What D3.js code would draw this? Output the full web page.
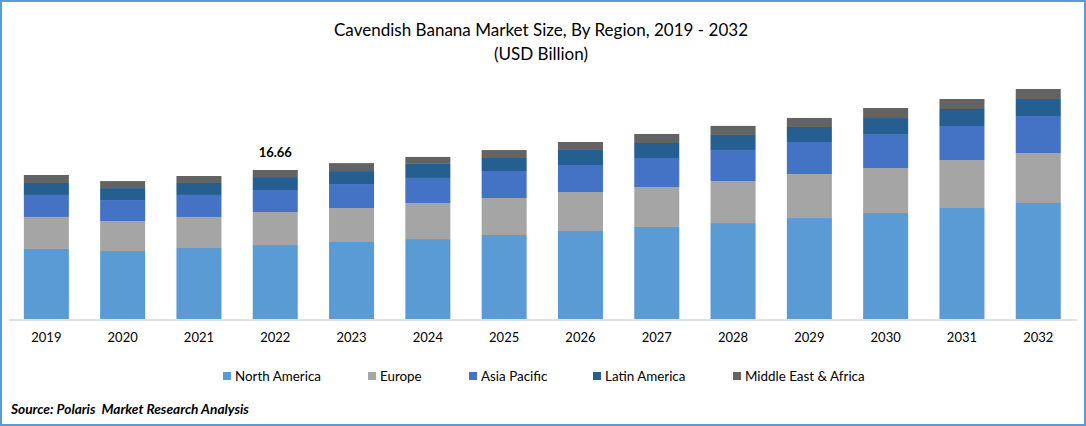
<!DOCTYPE html>
<html>
<head>
<meta charset="utf-8">
<title>Cavendish Banana Market Size</title>
<script src="https://cdnjs.cloudflare.com/ajax/libs/d3/7.8.5/d3.min.js"></script>
<style>
    html, body { margin: 0; padding: 0; background: #fff; }
    svg { display: block; font-family: Lato, sans-serif; }
</style>
</head>
<body>
<div id="chart"></div>
<script>
    var width = 1086,
        height = 426,

        // USD billion (16.66 for 2022 is the printed one)
        regions = ["North America", "Europe", "Asia Pacific", "Latin America", "Middle East & Africa"],
        colors = ["#5b9bd5", "#a5a5a5", "#4472c4", "#255e91", "#636363"],
        legendX = [223, 368, 469, 593, 733],

        data = [
            { year: 2019, "North America": 7.83, "Europe": 3.58, "Asia Pacific": 2.46, "Latin America": 1.34, "Middle East & Africa": 0.89 },
            { year: 2020, "North America": 7.60, "Europe": 3.35, "Asia Pacific": 2.35, "Latin America": 1.34, "Middle East & Africa": 0.78 },
            { year: 2021, "North America": 7.94, "Europe": 3.47, "Asia Pacific": 2.46, "Latin America": 1.34, "Middle East & Africa": 0.78 },
            { year: 2022, "North America": 8.27, "Europe": 3.69, "Asia Pacific": 2.46, "Latin America": 1.45, "Middle East & Africa": 0.79 },
            { year: 2023, "North America": 8.61, "Europe": 3.80, "Asia Pacific": 2.68, "Latin America": 1.45, "Middle East & Africa": 0.89 },
            { year: 2024, "North America": 8.94, "Europe": 4.03, "Asia Pacific": 2.80, "Latin America": 1.57, "Middle East & Africa": 0.78 },
            { year: 2025, "North America": 9.39, "Europe": 4.14, "Asia Pacific": 3.02, "Latin America": 1.45, "Middle East & Africa": 0.89 },
            { year: 2026, "North America": 9.84, "Europe": 4.36, "Asia Pacific": 3.02, "Latin America": 1.68, "Middle East & Africa": 0.89 },
            { year: 2027, "North America": 10.29, "Europe": 4.47, "Asia Pacific": 3.24, "Latin America": 1.68, "Middle East & Africa": 1.01 },
            { year: 2028, "North America": 10.73, "Europe": 4.70, "Asia Pacific": 3.47, "Latin America": 1.68, "Middle East & Africa": 1.01 },
            { year: 2029, "North America": 11.29, "Europe": 4.92, "Asia Pacific": 3.58, "Latin America": 1.68, "Middle East & Africa": 1.01 },
            { year: 2030, "North America": 11.85, "Europe": 5.03, "Asia Pacific": 3.80, "Latin America": 1.79, "Middle East & Africa": 1.12 },
            { year: 2031, "North America": 12.41, "Europe": 5.37, "Asia Pacific": 3.80, "Latin America": 1.90, "Middle East & Africa": 1.12 },
            { year: 2032, "North America": 12.97, "Europe": 5.59, "Asia Pacific": 4.14, "Latin America": 1.90, "Middle East & Africa": 1.12 }
        ],

        svg = d3.select("#chart")
            .append("svg")
            .attr("width", width)
            .attr("height", height),

        x = d3.scaleBand()
            .domain(data.map(function (d) { return d.year; }))
            .range([8.2, 1076.4])
            .paddingInner(0.41)
            .paddingOuter(0.205),

        // 16.66 takes 149px in the reference
        y = d3.scaleLinear()
            .domain([0, 30])
            .range([319, 319 - 30 * 149 / 16.66]),

        stacked = d3.stack().keys(regions)(data),
        label;

    // outer frame
    svg.append("rect")
        .attr("x", 1)
        .attr("y", 1)
        .attr("width", width - 2)
        .attr("height", height - 2)
        .attr("fill", "#fff")
        .attr("stroke", "#5b9bd5")
        .attr("stroke-width", 2);

    svg.selectAll("text.title")
        .data(["Cavendish Banana Market Size, By Region, 2019 - 2032", "(USD Billion)"])
        .enter()
        .append("text")
        .attr("class", "title")
        .attr("x", 541)
        .attr("y", function (d, i) { return 36 + i * 24; })
        .attr("text-anchor", "middle")
        .attr("font-size", "17.05px")
        .attr("fill", "#000")
        .text(function (d) { return d; });

    svg.selectAll("g.series")
        .data(stacked)
        .enter()
        .append("g")
        .attr("class", "series")
        .attr("fill", function (d, i) { return colors[i]; })
        .selectAll("rect")
        .data(function (d) { return d; })
        .enter()
        .append("rect")
        .attr("x", function (d) { return x(d.data.year); })
        .attr("y", function (d) { return y(d[1]); })
        .attr("width", x.bandwidth())
        .attr("height", function (d) { return y(d[0]) - y(d[1]); });

    // x axis
    svg.append("g")
        .attr("class", "axis")
        .attr("transform", "translate(0,319.5)")
        .call(d3.axisBottom(x).tickSize(0).tickPadding(13))
        .call(function (g) {
            g.select(".domain").attr("stroke", "#d9d9d9").attr("stroke-width", 1.5);
            g.selectAll("text")
                .attr("font-family", "Lato, sans-serif")
                .attr("font-size", "13px")
                .attr("fill", "#000");
        });

    // only 2022 is labelled
    svg.append("text")
        .attr("x", x(2022) + x.bandwidth() / 2)
        .attr("y", y(16.66) - 13)
        .attr("text-anchor", "middle")
        .attr("font-size", "13px")
        .attr("font-weight", "bold")
        .attr("fill", "#000")
        .text(d3.format(".2f")(d3.sum(regions, function (r) { return data[3][r]; })));

    // legend
    label = svg.selectAll("g.legend")
        .data(regions)
        .enter()
        .append("g")
        .attr("class", "legend")
        .attr("transform", function (d, i) { return "translate(" + legendX[i] + ",372)"; });

    label.append("rect")
        .attr("width", 8)
        .attr("height", 8)
        .attr("fill", function (d, i) { return colors[i]; });

    label.append("text")
        .attr("x", 12)
        .attr("y", 9)
        .attr("font-size", "13.4px")
        .attr("fill", "#000")
        .text(function (d) { return d; });

    svg.append("text")
        .attr("x", 11)
        .attr("y", 414)
        .attr("font-size", "13.7px")
        .attr("font-weight", "bold")
        .attr("font-style", "italic")
        .attr("fill", "#000")
        .style("white-space", "pre")
        .text("Source: Polaris  Market Research Analysis");
</script>
</body>
</html>
